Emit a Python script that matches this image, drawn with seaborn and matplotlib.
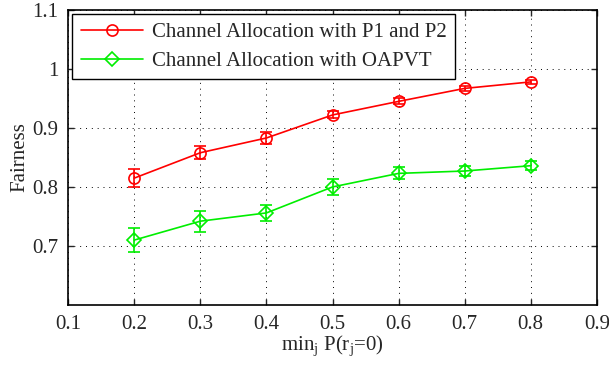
import matplotlib
matplotlib.use("Agg")
import matplotlib.pyplot as plt
from matplotlib.lines import Line2D
import seaborn as sns
import pandas as pd

# ── Data ────────────────────────────────────────────────────────────────
x_vals = [0.2, 0.3, 0.4, 0.5, 0.6, 0.7, 0.8]
fair_p1p2 = [0.815, 0.858, 0.883, 0.922, 0.945, 0.967, 0.978]
err_p1p2 = [0.015, 0.011, 0.010, 0.006, 0.005, 0.004, 0.003]
fair_oapvt = [0.710, 0.742, 0.756, 0.800, 0.823, 0.827, 0.836]
err_oapvt = [0.021, 0.018, 0.013, 0.013, 0.010, 0.008, 0.008]
labels = ['Channel Allocation with P1 and P2', 'Channel Allocation with OAPVT']
xticks = [0.1, 0.2, 0.3, 0.4, 0.5, 0.6, 0.7, 0.8, 0.9]
yticks = [0.7, 0.8, 0.9, 1.0, 1.1]
ytick_labels = ['0.7', '0.8', '0.9', '1', '1.1']

sns.set_style('ticks')
plt.rcParams.update({
    'font.family': ['Liberation Serif', 'DejaVu Serif'],
    'mathtext.fontset': 'custom',
    'mathtext.rm': 'Liberation Serif',
    'mathtext.it': 'Liberation Serif',
    'font.size': 15,
    'xtick.direction': 'in',
    'ytick.direction': 'in',
})

df = pd.DataFrame({
    'x': x_vals * 2,
    'y': fair_p1p2 + fair_oapvt,
    'series': [labels[0]] * len(x_vals) + [labels[1]] * len(x_vals),
})

fig = plt.figure(figsize=(6.09, 3.67), dpi=100)
ax = fig.add_axes([0.112, 0.169, 0.868, 0.804])

colors = {labels[0]: '#ff0000', labels[1]: '#00ee00'}
markers = {labels[0]: 'o', labels[1]: 'D'}
sns.lineplot(data=df, x='x', y='y', hue='series', style='series',
             markers=markers, dashes=False, palette=colors, lw=1.2,
             markersize=8, legend=False, ax=ax)

for line, lab in zip(ax.lines, labels):
    line.set_markeredgecolor(colors[lab])
    line.set_markerfacecolor('none')
    line.set_markeredgewidth(1.2)
ax.lines[1].set_markersize(7)

ax.errorbar(x_vals, fair_p1p2, yerr=err_p1p2, fmt='none',
            ecolor=colors[labels[0]], elinewidth=1.2, capsize=4, capthick=1.2)
ax.errorbar(x_vals, fair_oapvt, yerr=err_oapvt, fmt='none',
            ecolor=colors[labels[1]], elinewidth=1.2, capsize=4, capthick=1.2)

ax.set_xlim(0.1, 0.9)
ax.set_ylim(0.6, 1.1)
ax.set_xticks(xticks)
ax.set_xticklabels([f'{t:g}' for t in xticks])
ax.set_yticks(yticks)
ax.set_yticklabels(ytick_labels)
ax.tick_params(top=True, right=True, labelsize=15, length=4, width=1, pad=7)
ax.grid(True, color='black', linestyle=(0, (1, 5)), linewidth=0.7)
for s in ax.spines.values():
    s.set_color('black')
    s.set_linewidth(1.2)

ax.set_xlabel(r'min$_{\mathrm{j}}$ P(r$_{\mathrm{j}}$=0)', fontsize=15, labelpad=0)
ax.set_ylabel('Fairness', fontsize=15, labelpad=2)

handles = [Line2D([], [], color=colors[lab], lw=1.2, marker=markers[lab],
                  markersize=8 if markers[lab] == 'o' else 7,
                  markerfacecolor='none', markeredgewidth=1.2)
           for lab in labels]
leg = ax.legend(handles, labels, loc='upper left', fontsize=15, frameon=True,
                fancybox=False, borderaxespad=0.2, handlelength=3,
                borderpad=0.4, labelspacing=0.45, handletextpad=0.4)
leg.get_frame().set_edgecolor('black')
leg.get_frame().set_linewidth(1)
leg.get_frame().set_alpha(1)

fig.savefig('out.png', dpi=100)
